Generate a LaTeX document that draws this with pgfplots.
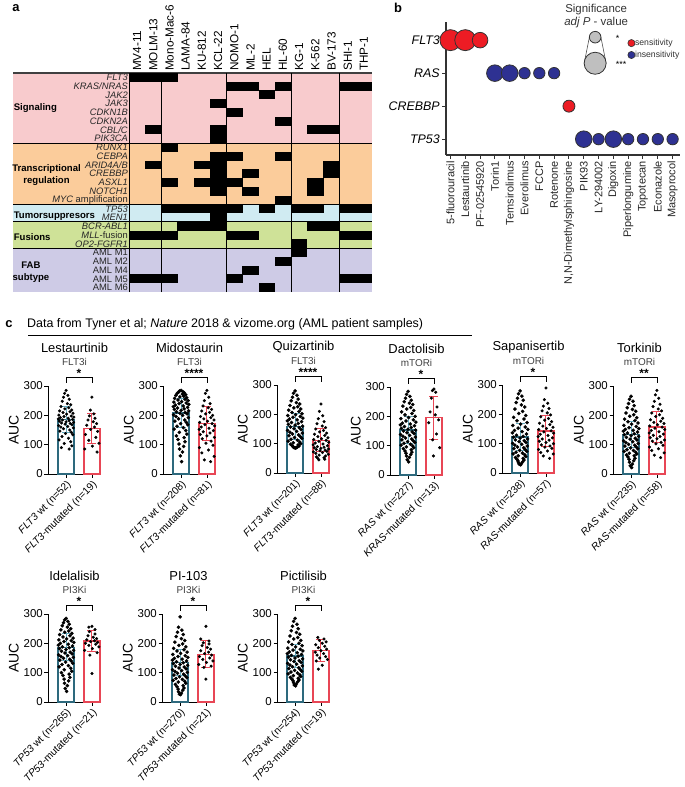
\documentclass[border=0pt]{standalone}
\usepackage{pgfplots}
\pgfplotsset{compat=1.18}
\usepackage{fontspec}
\setmainfont{Liberation Sans}
\newcommand{\fs}[1]{\fontsize{#1}{#1}\selectfont}
\definecolor{cpink}{RGB}{248,203,205}
\definecolor{corange}{RGB}{251,204,155}
\definecolor{cblue}{RGB}{208,235,242}
\definecolor{cgreen}{RGB}{207,226,152}
\definecolor{cpurple}{RGB}{206,203,230}
\definecolor{sred}{RGB}{237,28,36}
\definecolor{sblue}{RGB}{46,49,146}
\definecolor{wtc}{RGB}{45,105,125}
\definecolor{wtec}{RGB}{100,170,190}
\definecolor{mutc}{RGB}{232,70,85}
\pgfdeclareplotmark{cell}{\pgfpathrectangle{\pgfpoint{-8.2bp}{-4.45bp}}{\pgfpoint{16.4bp}{8.9bp}}\pgfusepathqfill}
\pgfplotsset{
 cplot/.style={anchor=south west, scale only axis, width=53bp, height=88bp,
  xmin=-0.7, xmax=1.35, ymin=0, ymax=300, clip=false,
  axis lines*=left, axis line style={line width=1pt},
  tick align=outside, major tick length=3.5bp, tick style={line width=0.9pt, black},
  xtick={0,1}, ytick={0,100,200,300},
  /pgf/number format/assume math mode=true,
  x tick label style={rotate=45, anchor=north east, font=\fs{10.3}, inner sep=1.5bp},
  y tick label style={font=\fs{11.5}, inner sep=1.5bp},
  ylabel={AUC}, ylabel style={font=\fs{14}}},
 pts/.style={only marks, mark=*, mark size=1.6bp, black, forget plot},
 mpts/.style={only marks, mark=*, mark size=1.35bp, black, forget plot},
 wbar/.style={ybar, bar width=16bp, draw=wtc, fill=white, line width=1.3pt, forget plot},
 mbar/.style={ybar, bar width=16bp, draw=mutc, fill=white, line width=1.3pt, forget plot},
 werr/.style={wtec, line width=1pt, mark=none, forget plot, error bars/.cd, y dir=both, y explicit, error bar style={line width=1pt, wtec}, error mark options={rotate=90, mark size=4.5bp, line width=1pt, wtec}},
 merr/.style={mutc, line width=1pt, mark=none, forget plot, error bars/.cd, y dir=both, y explicit, error bar style={line width=1pt, mutc}, error mark options={rotate=90, mark size=4.5bp, line width=1pt, mutc}},
 sig/.style={black, line width=0.8pt, mark=none, forget plot},
}
\newcommand{\titles}[3]{%
 \node[font=\fs{13}] at (rel axis cs:0.5,1) [yshift=38bp] {#1};
 \node[font=\fs{10}, text=black!75] at (rel axis cs:0.5,1) [yshift=24bp] {#2};
 \addplot[sig] coordinates {(0,311)(0,328)(1,328)(1,311)};
 \node[font=\bfseries\fs{12}, anchor=base, inner sep=0pt] at (axis cs:0.5,329) {#3};}
\begin{document}
\begin{tikzpicture}
\path[use as bounding box] (0,0) rectangle (685bp,-787bp);
% ---------------- panel a
\node[font=\bfseries\fs{13}] at (16bp,-8bp) {a};
\begin{axis}[at={(13bp,-292bp)}, anchor=south west, scale only axis, width=359bp, height=219bp,
 xmin=-6.66, xmax=15.5, ymin=0.5, ymax=25.5, clip=false,
 axis line style={draw=none}, ytick=\empty, xtick={1,...,15}, major tick length=0pt,
 xticklabels={MV4-11,MOLM-13,Mono-Mac-6,LAMA-84,KU-812,KCL-22,NOMO-1,ML-2,HEL,HL-60,KG-1,K-562,BV-173,SHI-1,THP-1},
 xticklabel pos=upper,
 x tick label style={rotate=90, anchor=west, font=\fs{11.8}, inner sep=2bp}]
\addplot[draw=none, fill=cpink] coordinates {(-6.66,17.5)(15.5,17.5)(15.5,25.5)(-6.66,25.5)} -- cycle;
\addplot[draw=none, fill=corange] coordinates {(-6.66,10.5)(15.5,10.5)(15.5,17.5)(-6.66,17.5)} -- cycle;
\addplot[draw=none, fill=cblue] coordinates {(-6.66,8.5)(15.5,8.5)(15.5,10.5)(-6.66,10.5)} -- cycle;
\addplot[draw=none, fill=cgreen] coordinates {(-6.66,5.5)(15.5,5.5)(15.5,8.5)(-6.66,8.5)} -- cycle;
\addplot[draw=none, fill=cpurple] coordinates {(-6.66,0.5)(15.5,0.5)(15.5,5.5)(-6.66,5.5)} -- cycle;
\addplot[only marks, mark=cell, black] coordinates {
(1,25)(2,25)(3,25)
(7,24)(8,24)(10,24)(14,24)(15,24)
(9,23)(6,22)(7,21)(10,20)
(2,19)(6,19)(12,19)(13,19)
(6,18)(3,17)
(6,16)(7,16)(10,16)
(2,15)(5,15)(6,15)(13,15)
(6,14)(8,14)(13,14)
(3,13)(5,13)(6,13)(7,13)(12,13)
(6,12)(8,12)(12,12)
(10,11)
(3,10)(4,10)(5,10)(6,10)(7,10)(9,10)(11,10)(12,10)(14,10)(15,10)
(6,9)
(4,8)(5,8)(6,8)(12,8)(13,8)
(1,7)(2,7)(3,7)(7,7)(8,7)(14,7)(15,7)
(11,6)(11,5)(10,4)(8,3)
(1,2)(2,2)(3,2)(7,2)(14,2)(15,2)
(9,1)};
\addplot[black!75, line width=1.5pt] coordinates {(-6.66,25.5)(15.5,25.5)};
\addplot[black, line width=0.9pt] coordinates {(-6.66,17.5)(15.5,17.5)};
\addplot[black, line width=0.9pt] coordinates {(-6.66,10.5)(15.5,10.5)};
\addplot[black, line width=0.9pt] coordinates {(-6.66,8.5)(15.5,8.5)};
\addplot[black, line width=0.9pt] coordinates {(-6.66,5.5)(15.5,5.5)};
\addplot[black, line width=0.9pt] coordinates {(0.5,0.5)(0.5,25.5)};
\addplot[black, line width=0.9pt] coordinates {(2.5,0.5)(2.5,25.5)};
\addplot[black, line width=0.9pt] coordinates {(6.5,0.5)(6.5,25.5)};
\addplot[black, line width=0.9pt] coordinates {(10.5,0.5)(10.5,25.5)};
\addplot[black, line width=0.9pt] coordinates {(13.5,0.5)(13.5,25.5)};
\begin{scope}[every node/.style={anchor=east, font=\fs{9.4}, inner sep=1bp, text=black!85}]
\node at (axis cs:0.5,25) {\textit{FLT3}};
\node at (axis cs:0.5,24) {\textit{KRAS/NRAS}};
\node at (axis cs:0.5,23) {\textit{JAK2}};
\node at (axis cs:0.5,22) {\textit{JAK3}};
\node at (axis cs:0.5,21) {\textit{CDKN1B}};
\node at (axis cs:0.5,20) {\textit{CDKN2A}};
\node at (axis cs:0.5,19) {\textit{CBL/C}};
\node at (axis cs:0.5,18) {\textit{PIK3CA}};
\node at (axis cs:0.5,17) {\textit{RUNX1}};
\node at (axis cs:0.5,16) {\textit{CEBPA}};
\node at (axis cs:0.5,15) {\textit{ARID4A/B}};
\node at (axis cs:0.5,14) {\textit{CREBBP}};
\node at (axis cs:0.5,13) {\textit{ASXL1}};
\node at (axis cs:0.5,12) {\textit{NOTCH1}};
\node at (axis cs:0.5,11) {\textit{MYC} amplification};
\node at (axis cs:0.5,10) {\textit{TP53}};
\node at (axis cs:0.5,9) {\textit{MEN1}};
\node at (axis cs:0.5,8) {\textit{BCR-ABL1}};
\node at (axis cs:0.5,7) {\textit{MLL}-fusion};
\node at (axis cs:0.5,6) {\textit{OP2-FGFR1}};
\node at (axis cs:0.5,5) {AML M1};
\node at (axis cs:0.5,4) {AML M2};
\node at (axis cs:0.5,3) {AML M4};
\node at (axis cs:0.5,2) {AML M5};
\node at (axis cs:0.5,1) {AML M6};
\end{scope}
\begin{scope}[every node/.style={font=\bfseries\fontsize{9.6}{12}\selectfont, inner sep=0pt, align=center}]
\node[anchor=west] at (axis cs:-6.62,21.5) {Signaling};
\node at (axis cs:-4.59,13.86) {Transcriptional\\regulation};
\node[anchor=west] at (axis cs:-6.62,9.18) {Tumorsuppresors};
\node[anchor=west] at (axis cs:-6.62,6.78) {Fusions};
\node at (axis cs:-5.55,2.78) {FAB\\subtype};
\end{scope}
\end{axis}
% ---------------- panel b
\node[font=\bfseries\fs{13}] at (398bp,-8bp) {b};
\begin{axis}[at={(446bp,-155bp)}, anchor=south west, scale only axis, width=234bp, height=133bp,
 xmin=-0.3, xmax=15.5, ymin=-0.48, ymax=3.55, clip=false,
 axis lines*=left, axis line style={line width=1.2pt, black!80},
 tick align=outside, major tick length=4bp, tick style={line width=1pt, black!80},
 xtick={0,...,15},
 xticklabels={5-fluorouracil,Lestaurtinib,PF-02545920,Torin1,Temsirolimus,Everolimus,FCCP,Rotenone,{N,N-Dimethylsphingosine},PIK93,LY-294002,Digoxin,Piperlongumine,Topotecan,Econazole,Masoprocol},
 x tick label style={rotate=90, anchor=east, font=\fs{11}, inner sep=2bp, text=black!85},
 ytick={0,1,2,3}, yticklabels={\textit{TP53},\textit{CREBBP},\textit{RAS},\textit{FLT3}},
 y tick label style={font=\fs{12.5}, inner sep=2bp}]
\addplot[black!70, line width=0.6pt] coordinates {(9.38,3.09)(9.03,2.30)};
\addplot[black!70, line width=0.6pt] coordinates {(10.16,3.09)(10.51,2.30)};
\addplot[only marks, mark=*, mark size=5.8bp, mark options={fill=black!25, draw=black!80, line width=0.8pt}] coordinates {(9.77,3.09)};
\addplot[only marks, mark=*, mark size=11bp, mark options={fill=black!25, draw=black!80, line width=0.8pt}] coordinates {(9.77,2.30)};
\addplot[only marks, mark=*, mark size=10.5bp, mark options={fill=sred, draw=black!80, line width=0.8pt}] coordinates {(0,3)(1,3)};
\addplot[only marks, mark=*, mark size=7.8bp, mark options={fill=sred, draw=black!80, line width=0.8pt}] coordinates {(2,3)};
\addplot[only marks, mark=*, mark size=6bp, mark options={fill=sred, draw=black!80, line width=0.8pt}] coordinates {(8,1)};
\addplot[only marks, mark=*, mark size=8.3bp, mark options={fill=sblue, draw=black!80, line width=0.8pt}] coordinates {(3,2)(4,2)(9,0)(11,0)};
\addplot[only marks, mark=*, mark size=5.7bp, mark options={fill=sblue, draw=black!80, line width=0.8pt}] coordinates {(5,2)(6,2)(7,2)(10,0)(12,0)(13,0)(14,0)(15,0)};
\addplot[only marks, mark=*, mark size=3.6bp, mark options={fill=sred, draw=black!80, line width=0.6pt}] coordinates {(12.22,2.91)};
\addplot[only marks, mark=*, mark size=3.6bp, mark options={fill=sblue, draw=black!80, line width=0.6pt}] coordinates {(12.22,2.55)};
\node[anchor=west, font=\fs{8.7}, text=black!80, inner sep=0.5pt] at (axis cs:12.42,2.91) {sensitivity};
\node[anchor=west, font=\fs{8.7}, text=black!80, inner sep=0.5pt] at (axis cs:12.42,2.55) {insensitivity};
\node[font=\fs{11.5}, text=black!80] at (axis cs:9.84,3.94) {Significance};
\node[font=\fs{11.5}, text=black!80] at (axis cs:9.84,3.52) {\textit{adj P} - value};
\node[font=\fs{9}, anchor=west, inner sep=0pt] at (axis cs:11.15,3.06) {*};
\node[font=\fs{9}, anchor=west, inner sep=0pt] at (axis cs:11.15,2.27) {***};
\end{axis}
% ---------------- panel c header
\node[font=\bfseries\fs{13}] at (9bp,-324bp) {c};
\node[anchor=west, font=\fs{12.5}, inner sep=0pt] at (27bp,-324bp) {Data from Tyner et al; \textit{Nature} 2018 \& vizome.org (AML patient samples)};
\draw[line width=0.9pt] (28bp,-335bp) -- (472bp,-335bp);
% ---------------- Lestaurtinib
\begin{axis}[cplot, at={(48bp,-474bp)}, xticklabels={{\textit{FLT3} wt (n=52)},{\textit{FLT3}-mutated (n=19)}}]
\addplot[wbar] coordinates {(0,185)};
\addplot[mbar] coordinates {(1,155)};
\addplot[mpts] coordinates {(0.00,285)(-0.06,275)(0.07,268)(-0.10,262)(0.12,255)(-0.15,248)(0.05,240)(0.18,236)(-0.20,230)(0.10,226)(-0.05,222)(0.22,218)(-0.25,215)(0.15,212)(-0.12,210)(0.27,207)(0.02,204)(-0.28,201)(0.20,198)(-0.08,196)(0.30,194)(-0.22,192)(0.08,190)(-0.30,188)(0.25,186)(-0.14,184)(0.12,182)(-0.26,180)(0.00,178)(0.29,176)(-0.18,174)(0.16,172)(-0.04,170)(0.23,168)(-0.29,165)(0.06,162)(-0.20,160)(0.28,157)(-0.10,154)(0.14,150)(-0.24,146)(0.20,142)(-0.02,138)(0.26,134)(-0.16,128)(0.09,122)(-0.27,116)(0.18,110)(-0.07,104)(0.22,96)(-0.18,90)(0.12,85)};
\addplot[mpts] coordinates {(1.00,262)(0.94,218)(1.07,205)(0.90,198)(1.12,190)(0.85,184)(1.05,178)(1.18,172)(0.80,166)(1.10,160)(0.95,152)(1.22,145)(0.75,135)(1.15,125)(0.88,115)(1.27,105)(1.02,95)(0.72,85)(1.20,75)};
\addplot[werr] coordinates {(0,185) +- (0,45)};
\addplot[merr] coordinates {(1,155) +- (0,50)};
\titles{Lestaurtinib}{FLT3i}{*}
\end{axis}
% ---------------- Midostaurin
\begin{axis}[cplot, at={(163bp,-474bp)}, xticklabels={{\textit{FLT3} wt (n=208)},{\textit{FLT3}-mutated (n=81)}}]
\addplot[wbar] coordinates {(0,208)};
\addplot[mbar] coordinates {(1,172)};
\addplot[pts] coordinates {(0.00,285)(-0.06,283)(0.07,281)(-0.10,279)(0.12,277)(-0.15,275)(0.05,272)(0.18,270)(-0.20,268)(0.10,265)(-0.05,263)(0.22,260)(-0.25,258)(0.15,255)(-0.12,252)(0.27,250)(0.02,247)(-0.28,245)(0.20,242)(-0.08,240)(0.30,237)(-0.22,235)(0.08,232)(-0.30,230)(0.25,227)(-0.14,225)(0.12,222)(-0.26,220)(0.00,217)(0.29,215)(-0.18,212)(0.16,210)(-0.04,207)(0.23,205)(-0.29,202)(0.06,200)(-0.20,196)(0.28,192)(-0.10,188)(0.14,184)(-0.24,180)(0.20,176)(-0.02,172)(0.26,168)(-0.16,163)(0.09,158)(-0.27,153)(0.18,148)(-0.07,142)(0.22,136)(-0.18,130)(0.12,124)(-0.12,118)(0.15,110)(-0.08,102)(0.10,94)(-0.06,85)(0.05,75)(-0.03,62)(0.02,42)};
\addplot[mpts] coordinates {(1.00,285)(0.94,275)(1.07,262)(0.90,250)(1.12,240)(0.85,232)(1.05,226)(1.18,220)(0.80,215)(1.10,210)(0.95,205)(1.22,200)(0.75,196)(1.15,192)(0.88,188)(1.27,184)(1.02,180)(0.72,176)(1.20,172)(0.92,168)(1.30,164)(0.78,160)(1.08,156)(0.70,152)(1.25,148)(0.86,144)(1.12,140)(0.74,135)(1.00,130)(1.29,125)(0.82,120)(1.16,112)(0.96,105)(1.23,98)(0.71,90)(1.06,82)(0.80,72)(1.28,60)(0.90,48)(1.14,42)};
\addplot[werr] coordinates {(0,208) +- (0,50)};
\addplot[merr] coordinates {(1,172) +- (0,57)};
\titles{Midostaurin}{FLT3i}{****}
\end{axis}
% ---------------- Quizartinib
\begin{axis}[cplot, at={(277bp,-473bp)}, xticklabels={{\textit{FLT3} wt (n=201)},{\textit{FLT3}-mutated (n=88)}}]
\addplot[wbar] coordinates {(0,158)};
\addplot[mbar] coordinates {(1,112)};
\addplot[pts] coordinates {(0.00,280)(-0.06,272)(0.07,265)(-0.10,258)(0.12,252)(-0.15,246)(0.05,240)(0.18,235)(-0.20,230)(0.10,226)(-0.05,222)(0.22,218)(-0.25,214)(0.15,210)(-0.12,206)(0.27,202)(0.02,199)(-0.28,196)(0.20,193)(-0.08,190)(0.30,187)(-0.22,184)(0.08,181)(-0.30,178)(0.25,175)(-0.14,172)(0.12,169)(-0.26,166)(0.00,163)(0.29,160)(-0.18,157)(0.16,154)(-0.04,151)(0.23,148)(-0.29,145)(0.06,142)(-0.20,139)(0.28,136)(-0.10,133)(0.14,130)(-0.24,127)(0.20,124)(-0.02,121)(0.26,118)(-0.16,115)(0.09,112)(-0.27,109)(0.18,106)(-0.07,103)(0.22,100)(-0.18,98)(0.12,96)(-0.12,94)(0.15,92)(-0.08,90)(0.10,89)(-0.06,88)(0.05,87)(-0.03,86)(0.02,85)};
\addplot[mpts] coordinates {(1.00,235)(0.94,210)(1.07,195)(0.90,185)(1.12,175)(0.85,168)(1.05,160)(1.18,155)(0.80,150)(1.10,145)(0.95,140)(1.22,136)(0.75,132)(1.15,128)(0.88,124)(1.27,120)(1.02,117)(0.72,114)(1.20,111)(0.92,108)(1.30,105)(0.78,102)(1.08,99)(0.70,96)(1.25,93)(0.86,90)(1.12,88)(0.74,86)(1.00,84)(1.29,82)(0.82,80)(1.16,78)(0.96,76)(1.23,74)(0.71,72)(1.06,70)(0.80,67)(1.28,64)(0.93,61)(1.18,58)(0.82,55)(1.12,52)(0.88,50)(1.15,47)(0.92,45)};
\addplot[werr] coordinates {(0,158) +- (0,45)};
\addplot[merr] coordinates {(1,112) +- (0,40)};
\titles{Quizartinib}{FLT3i}{****}
\end{axis}
% ---------------- Dactolisib
\begin{axis}[cplot, at={(390bp,-475bp)}, xticklabels={{\textit{RAS} wt (n=227)},{\textit{KRAS}-mutated (n=13)}}]
\addplot[wbar] coordinates {(0,153)};
\addplot[mbar] coordinates {(1,195)};
\addplot[pts] coordinates {(0.00,285)(-0.06,275)(0.07,268)(-0.10,262)(0.12,255)(-0.15,250)(0.05,245)(0.18,240)(-0.20,235)(0.10,230)(-0.05,225)(0.22,220)(-0.25,215)(0.15,210)(-0.12,205)(0.27,200)(0.02,196)(-0.28,192)(0.20,188)(-0.08,184)(0.30,180)(-0.22,177)(0.08,174)(-0.30,171)(0.25,168)(-0.14,165)(0.12,162)(-0.26,159)(0.00,156)(0.29,153)(-0.18,150)(0.16,147)(-0.04,144)(0.23,141)(-0.29,138)(0.06,135)(-0.20,132)(0.28,129)(-0.10,126)(0.14,123)(-0.24,120)(0.20,117)(-0.02,114)(0.26,111)(-0.16,108)(0.09,105)(-0.27,102)(0.18,99)(-0.07,96)(0.22,93)(-0.18,90)(0.12,86)(-0.12,82)(0.15,78)(-0.08,74)(0.10,70)(-0.06,65)(0.05,60)(-0.03,52)(0.02,45)};
\addplot[mpts] coordinates {(1.00,293)(0.94,288)(1.07,282)(0.90,262)(1.12,232)(0.85,215)(1.05,205)(1.18,188)(0.80,178)(1.10,140)(0.95,120)(1.22,93)(0.98,65)};
\addplot[werr] coordinates {(0,153) +- (0,45)};
\addplot[merr] coordinates {(1,195) +- (0,74)};
\titles{Dactolisib}{mTORi}{*}
\end{axis}
% ---------------- Sapanisertib
\begin{axis}[cplot, at={(502bp,-473bp)}, xticklabels={{\textit{RAS} wt (n=238)},{\textit{RAS}-mutated (n=57)}}]
\addplot[wbar] coordinates {(0,123)};
\addplot[mbar] coordinates {(1,143)};
\addplot[pts] coordinates {(0.00,280)(-0.06,270)(0.07,262)(-0.10,255)(0.12,248)(-0.15,240)(0.05,232)(0.18,225)(-0.20,218)(0.10,210)(-0.05,203)(0.22,196)(-0.25,190)(0.15,184)(-0.12,178)(0.27,172)(0.02,167)(-0.28,162)(0.20,157)(-0.08,153)(0.30,149)(-0.22,145)(0.08,141)(-0.30,137)(0.25,133)(-0.14,129)(0.12,125)(-0.26,122)(0.00,119)(0.29,116)(-0.18,113)(0.16,110)(-0.04,107)(0.23,104)(-0.29,101)(0.06,98)(-0.20,95)(0.28,92)(-0.10,89)(0.14,86)(-0.24,83)(0.20,80)(-0.02,77)(0.26,74)(-0.16,71)(0.09,68)(-0.27,65)(0.18,62)(-0.07,59)(0.22,56)(-0.18,53)(0.12,50)(-0.12,47)(0.15,44)(-0.08,41)(0.10,38)(-0.06,35)(0.05,32)(-0.03,30)(0.02,28)};
\addplot[mpts] coordinates {(1.00,290)(0.94,250)(1.07,238)(0.90,228)(1.12,220)(0.85,212)(1.05,205)(1.18,198)(0.80,192)(1.10,186)(0.95,180)(1.22,175)(0.75,170)(1.15,165)(0.88,160)(1.27,156)(1.02,152)(0.72,148)(1.20,144)(0.92,140)(1.30,136)(0.78,132)(1.08,128)(0.70,124)(1.25,120)(0.86,116)(1.12,112)(0.74,108)(1.00,104)(1.29,100)(0.82,96)(1.16,92)(0.96,88)(1.23,84)(0.71,80)(1.06,75)(0.80,70)(1.28,65)(0.90,58)(1.14,50)};
\addplot[werr] coordinates {(0,123) +- (0,45)};
\addplot[merr] coordinates {(1,143) +- (0,54)};
\titles{Sapanisertib}{mTORi}{*}
\end{axis}
% ---------------- Torkinib
\begin{axis}[cplot, at={(613bp,-474bp)}, xticklabels={{\textit{RAS} wt (n=235)},{\textit{RAS}-mutated (n=58)}}]
\addplot[wbar] coordinates {(0,135)};
\addplot[mbar] coordinates {(1,160)};
\addplot[pts] coordinates {(0.00,265)(-0.06,255)(0.07,248)(-0.10,240)(0.12,233)(-0.15,226)(0.05,220)(0.18,214)(-0.20,208)(0.10,202)(-0.05,197)(0.22,192)(-0.25,187)(0.15,182)(-0.12,178)(0.27,174)(0.02,170)(-0.28,166)(0.20,162)(-0.08,158)(0.30,155)(-0.22,152)(0.08,149)(-0.30,146)(0.25,143)(-0.14,140)(0.12,137)(-0.26,134)(0.00,131)(0.29,128)(-0.18,125)(0.16,122)(-0.04,119)(0.23,116)(-0.29,113)(0.06,110)(-0.20,107)(0.28,104)(-0.10,101)(0.14,98)(-0.24,95)(0.20,92)(-0.02,89)(0.26,86)(-0.16,83)(0.09,80)(-0.27,77)(0.18,74)(-0.07,71)(0.22,68)(-0.18,65)(0.12,62)(-0.12,58)(0.15,54)(-0.08,50)(0.10,45)(-0.06,40)(0.05,34)(-0.03,28)(0.02,22)};
\addplot[mpts] coordinates {(1.00,285)(0.94,270)(1.07,258)(0.90,248)(1.12,238)(0.85,230)(1.05,222)(1.18,215)(0.80,208)(1.10,202)(0.95,196)(1.22,190)(0.75,185)(1.15,180)(0.88,176)(1.27,172)(1.02,168)(0.72,164)(1.20,160)(0.92,156)(1.30,152)(0.78,148)(1.08,144)(0.70,140)(1.25,136)(0.86,132)(1.12,128)(0.74,124)(1.00,120)(1.29,116)(0.82,112)(1.16,108)(0.96,103)(1.23,98)(0.71,92)(1.06,86)(0.80,80)(1.28,72)(0.90,64)(1.14,56)};
\addplot[werr] coordinates {(0,135) +- (0,45)};
\addplot[merr] coordinates {(1,160) +- (0,53)};
\titles{Torkinib}{mTORi}{**}
\end{axis}
% ---------------- Idelalisib
\begin{axis}[cplot, at={(48bp,-702bp)}, xticklabels={{\textit{TP53} wt (n=265)},{\textit{TP53}-mutated (n=21)}}]
\addplot[wbar] coordinates {(0,187)};
\addplot[mbar] coordinates {(1,208)};
\addplot[pts] coordinates {(0.00,285)(-0.06,280)(0.07,275)(-0.10,270)(0.12,265)(-0.15,260)(0.05,255)(0.18,250)(-0.20,246)(0.10,242)(-0.05,238)(0.22,234)(-0.25,230)(0.15,226)(-0.12,222)(0.27,218)(0.02,215)(-0.28,212)(0.20,209)(-0.08,206)(0.30,203)(-0.22,200)(0.08,197)(-0.30,194)(0.25,191)(-0.14,188)(0.12,185)(-0.26,182)(0.00,179)(0.29,176)(-0.18,173)(0.16,170)(-0.04,167)(0.23,164)(-0.29,161)(0.06,158)(-0.20,155)(0.28,152)(-0.10,149)(0.14,146)(-0.24,143)(0.20,140)(-0.02,136)(0.26,132)(-0.16,128)(0.09,124)(-0.27,120)(0.18,115)(-0.07,110)(0.22,105)(-0.18,100)(0.12,95)(-0.12,90)(0.15,84)(-0.08,78)(0.10,72)(-0.06,64)(0.05,56)(-0.03,46)(0.02,36)};
\addplot[mpts] coordinates {(1.00,258)(0.88,255)(1.12,247)(0.90,240)(1.12,232)(0.85,226)(1.05,221)(1.18,216)(0.80,212)(1.10,209)(0.95,206)(1.22,203)(0.75,200)(1.15,197)(0.88,193)(1.27,188)(1.02,182)(0.72,176)(1.20,168)(0.92,160)(1.00,97)};
\addplot[werr] coordinates {(0,187) +- (0,45)};
\addplot[merr] coordinates {(1,208) +- (0,35)};
\titles{Idelalisib}{PI3Ki}{*}
\end{axis}
% ---------------- PI-103
\begin{axis}[cplot, at={(162bp,-702bp)}, xticklabels={{\textit{TP53} wt (n=270)},{\textit{TP53}-mutated (n=21)}}]
\addplot[wbar] coordinates {(0,134)};
\addplot[mbar] coordinates {(1,163)};
\addplot[pts] coordinates {(0.00,290)(-0.06,255)(0.07,245)(-0.10,238)(0.12,230)(-0.15,223)(0.05,216)(0.18,210)(-0.20,204)(0.10,198)(-0.05,193)(0.22,188)(-0.25,183)(0.15,178)(-0.12,174)(0.27,170)(0.02,166)(-0.28,162)(0.20,158)(-0.08,155)(0.30,152)(-0.22,149)(0.08,146)(-0.30,143)(0.25,140)(-0.14,137)(0.12,134)(-0.26,131)(0.00,128)(0.29,125)(-0.18,122)(0.16,119)(-0.04,116)(0.23,113)(-0.29,110)(0.06,107)(-0.20,104)(0.28,101)(-0.10,98)(0.14,95)(-0.24,92)(0.20,89)(-0.02,86)(0.26,83)(-0.16,80)(0.09,77)(-0.27,74)(0.18,71)(-0.07,68)(0.22,64)(-0.18,60)(0.12,56)(-0.12,52)(0.15,48)(-0.08,44)(0.10,40)(-0.06,35)(0.05,30)(-0.03,27)(0.02,25)};
\addplot[mpts] coordinates {(1.00,258)(0.80,215)(1.12,208)(0.90,202)(1.12,198)(0.85,192)(1.05,186)(1.18,180)(0.80,175)(1.10,170)(0.95,165)(1.22,160)(0.75,155)(1.15,150)(0.88,145)(1.27,140)(1.02,135)(0.72,128)(1.20,122)(0.92,118)(1.00,78)};
\addplot[werr] coordinates {(0,134) +- (0,45)};
\addplot[merr] coordinates {(1,163) +- (0,45)};
\titles{PI-103}{PI3Ki}{*}
\end{axis}
% ---------------- Pictilisib
\begin{axis}[cplot, at={(277bp,-702bp)}, xticklabels={{\textit{TP53} wt (n=254)},{\textit{TP53}-mutated (n=19)}}]
\addplot[wbar] coordinates {(0,157)};
\addplot[mbar] coordinates {(1,175)};
\addplot[pts] coordinates {(0.00,285)(-0.06,275)(0.07,265)(-0.10,258)(0.12,250)(-0.15,243)(0.05,237)(0.18,231)(-0.20,225)(0.10,220)(-0.05,215)(0.22,210)(-0.25,205)(0.15,200)(-0.12,196)(0.27,192)(0.02,188)(-0.28,184)(0.20,180)(-0.08,177)(0.30,174)(-0.22,171)(0.08,168)(-0.30,165)(0.25,162)(-0.14,159)(0.12,156)(-0.26,153)(0.00,150)(0.29,147)(-0.18,144)(0.16,141)(-0.04,138)(0.23,135)(-0.29,132)(0.06,129)(-0.20,126)(0.28,123)(-0.10,120)(0.14,117)(-0.24,114)(0.20,111)(-0.02,108)(0.26,105)(-0.16,102)(0.09,99)(-0.27,96)(0.18,93)(-0.07,90)(0.22,87)(-0.18,84)(0.12,81)(-0.12,78)(0.15,75)(-0.08,72)(0.10,69)(-0.06,66)(0.05,62)(-0.03,58)(0.02,55)};
\addplot[mpts] coordinates {(0.88,220)(1.12,215)(0.94,210)(1.20,205)(1.05,200)(0.80,195)(1.15,190)(0.90,185)(1.22,180)(1.00,175)(0.78,170)(1.10,165)(0.85,160)(1.18,155)(0.95,150)(1.25,145)(0.82,140)(1.05,125)(0.90,112)};
\addplot[werr] coordinates {(0,157) +- (0,40)};
\addplot[merr] coordinates {(1,175) +- (0,38)};
\titles{Pictilisib}{PI3Ki}{*}
\end{axis}
\end{tikzpicture}
\end{document}
